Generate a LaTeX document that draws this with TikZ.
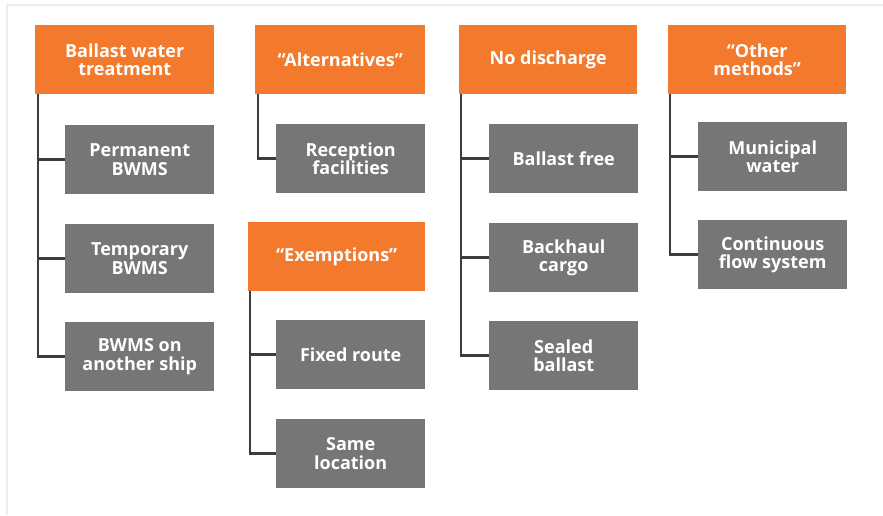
\documentclass[tikz,border=0pt]{standalone}
\usepackage{fontspec}
\setmainfont{Open Sans}
\usepackage{xcolor}
\usepackage{tikz}
\usetikzlibrary{positioning}

\definecolor{hdrorange}{HTML}{F37A2D}
\definecolor{optgray}{HTML}{767676}
\definecolor{treeline}{HTML}{3C3C3C}
\definecolor{framegray}{HTML}{EDEDED}

\tikzset{
  hdr/.style={fill=hdrorange, text=white, font=\bfseries\fontsize{18}{18.5}\selectfont,
    align=center, anchor=north west, inner sep=0pt, minimum height=69pt},
  opt/.style={fill=optgray, text=white, font=\bfseries\fontsize{18}{18.5}\selectfont,
    align=center, anchor=north west, inner sep=0pt, minimum width=149pt, minimum height=69pt},
  tree/.style={draw=treeline, line width=2.6pt}
}

\begin{document}
\begin{tikzpicture}[x=1pt, y=-1pt]
  \useasboundingbox (0,0) rectangle (883,515);

  % --- light frame, top and left ---
  \draw[framegray, line width=1.5pt] (7,515) -- (7,5) -- (883,5);

  % --- group headers ---
  \node[hdr, minimum width=179pt] (bwt)  at (35,25)   {Ballast water\\treatment};
  \node[hdr, minimum width=170pt] (alt)  at (255,25)  {“Alternatives”};
  \node[hdr, minimum width=177pt] (exm)  at (248,222) {“Exemptions”};
  \node[hdr, minimum width=178pt] (nod)  at (459,25)  {No discharge};
  \node[hdr, minimum width=178pt] (oth)  at (668,25)  {“Other\\methods”};

  % --- options under each header ---
  \node[opt] (perm)  at (65,125)  {Permanent\\BWMS};
  \node[opt] (temp)  at (65,224)  {Temporary\\BWMS};
  \node[opt] (other) at (65,322)  {BWMS on\\another ship};

  \node[opt] (recep) at (276,124) {Reception\\facilities};

  \node[opt] (fixed) at (276,320) {Fixed route};
  \node[opt] (same)  at (276,419) {Same\\location};

  \node[opt] (bfree) at (489,124) {Ballast free};
  \node[opt] (bhaul) at (489,223) {Backhaul\\cargo};
  \node[opt] (seal)  at (489,321) {Sealed\\ballast};

  \node[opt] (muni)  at (698,122) {Municipal\\water};
  \node[opt] (cflow) at (698,220) {Continuous\\flow system};

  % --- tree lines: header edge down, then across to each option ---
  \draw[tree] ([xshift=3pt]bwt.south west) |- (other.west);
  \draw[tree] ([xshift=3pt]bwt.south west) |- (perm.west);
  \draw[tree] ([xshift=3pt]bwt.south west) |- (temp.west);

  \draw[tree] ([xshift=3pt]alt.south west) |- (recep.west);

  \draw[tree] ([xshift=2pt]exm.south west) |- (same.west);
  \draw[tree] ([xshift=2pt]exm.south west) |- (fixed.west);

  \draw[tree] ([xshift=2pt]nod.south west) |- (seal.west);
  \draw[tree] ([xshift=2pt]nod.south west) |- (bfree.west);
  \draw[tree] ([xshift=2pt]nod.south west) |- (bhaul.west);

  \draw[tree] ([xshift=2pt]oth.south west) |- (cflow.west);
  \draw[tree] ([xshift=2pt]oth.south west) |- (muni.west);
\end{tikzpicture}
\end{document}
